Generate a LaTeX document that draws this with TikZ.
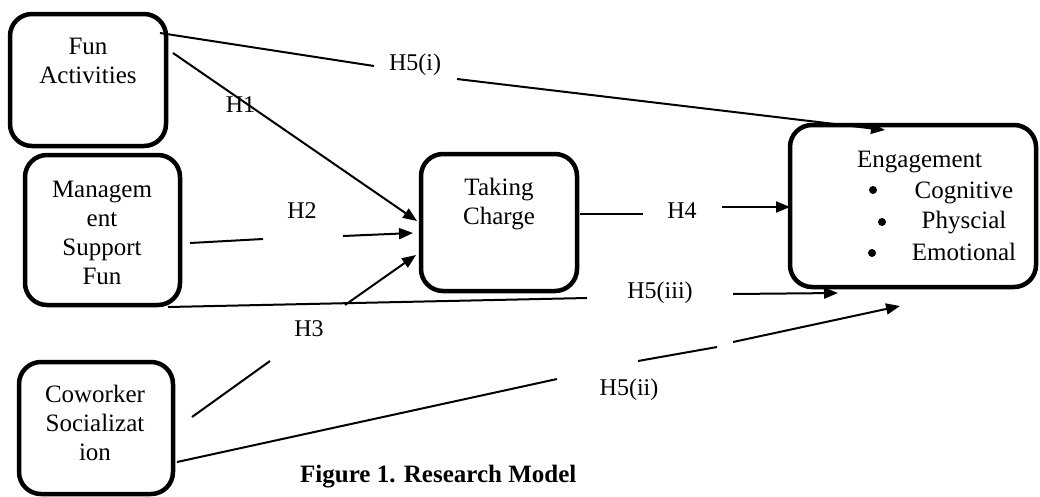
\documentclass[tikz,border=0pt]{standalone}
\usepackage{fontspec}
\setmainfont{Liberation Serif}
\usetikzlibrary{arrows.meta}
\begin{document}
\begin{tikzpicture}[x=1pt,y=-1pt,
  box/.style={draw, line width=4.5pt, rounded corners=22pt, inner sep=0pt},
  btxt/.style={anchor=base, inner sep=0pt, font=\fontsize{25}{29}\selectfont},
  lbl/.style={anchor=base, inner sep=0pt, font=\fontsize{24}{28}\selectfont},
  conn/.style={line width=2pt},
  arr/.style={line width=2pt, -{Triangle[length=14pt,width=11pt]}}
]
\useasboundingbox (0,0) rectangle (1040,496);

% boxes
\node[box, minimum width=156pt, minimum height=132pt] (fun) at (88,80) {};
\node[box, minimum width=155pt, minimum height=150pt] (mgmt) at (102.5,230) {};
\node[box, minimum width=154pt, minimum height=132pt] (cow) at (96,428) {};
\node[box, minimum width=156pt, minimum height=137pt] (tc) at (499,222.5) {};
\node[box, minimum width=246pt, minimum height=162pt] (eng) at (913,206) {};

% box texts
\node[btxt] (funT) at (88,54) {\begin{tabular}[t]{@{}c@{}}Fun\\Activities\end{tabular}};
\node[btxt] (mgmtT) at (102,197) {\begin{tabular}[t]{@{}c@{}}Managem\\ent\\Support\\Fun\end{tabular}};
\node[btxt] (tcT) at (499,195) {\begin{tabular}[t]{@{}c@{}}Taking\\Charge\end{tabular}};
\node[btxt] (cowT) at (95,402) {\begin{tabular}[t]{@{}c@{}}Coworker\\Socializat\\ion\end{tabular}};
\node[btxt, anchor=base west] (engT) at (857,167) {Engagement};
\node[btxt] (cog) at (964,198) {Cognitive};
\node[btxt] (phy) at (964,228) {Physcial};
\node[btxt] (emo) at (964,260) {Emotional};
\fill (873,190) circle (4pt);
\fill (882,222) circle (4pt);
\fill (872,253) circle (4pt);

% labels
\node[lbl] (h1) at (240.5,112) {H1};
\node[lbl] (h2) at (302,218) {H2};
\node[lbl] (h3) at (309,336) {H3};
\node[lbl] (h4) at (682,218) {H4};
\node[lbl] (h5i) at (415,70) {H5(i)};
\node[lbl] (h5iii) at (660,298) {H5(iii)};
\node[lbl] (h5ii) at (629,395) {H5(ii)};

% connector points
\coordinate (a1) at (160,33);  \coordinate (a2) at (374,66);
\coordinate (a3) at (457,79);  \coordinate (a4) at (885,130);
\coordinate (b1) at (173,53);  \coordinate (b2) at (417,221);
\coordinate (c1) at (190,243); \coordinate (c2) at (263,239);
\coordinate (c3) at (343,236); \coordinate (c4) at (413,233);
\coordinate (d1) at (192,417); \coordinate (d2) at (270,361);
\coordinate (d3) at (345,305); \coordinate (d4) at (416,255);
\coordinate (e1) at (580,214); \coordinate (e2) at (643,214);
\coordinate (e3) at (722,207); \coordinate (e4) at (790,207);
\coordinate (f1) at (168,307); \coordinate (f2) at (587,298);
\coordinate (f3) at (733,294); \coordinate (f4) at (838,293);
\coordinate (g1) at (177,462); \coordinate (g2) at (557,379);
\coordinate (g3) at (638,361); \coordinate (g4) at (717,347);
\coordinate (g5) at (733,342); \coordinate (g6) at (900,306);

% connectors
\draw[conn] (a1) -- (a2);
\draw[arr] (a3) -- (a4);
\draw[arr] (b1) -- (b2);
\draw[conn] (c1) -- (c2);
\draw[arr] (c3) -- (c4);
\draw[conn] (d1) -- (d2);
\draw[arr] (d3) -- (d4);
\draw[conn] (e1) -- (e2);
\draw[arr] (e3) -- (e4);
\draw[conn] (f1) -- (f2);
\draw[arr] (f3) -- (f4);
\draw[conn] (g1) -- (g2);
\draw[conn] (g3) -- (g4);
\draw[arr] (g5) -- (g6);

% caption
\node[anchor=base west, inner sep=0pt, font=\bfseries\fontsize{25}{29}\selectfont] (cap) at (300,482) {Figure 1. Research Model};
\end{tikzpicture}
\end{document}
